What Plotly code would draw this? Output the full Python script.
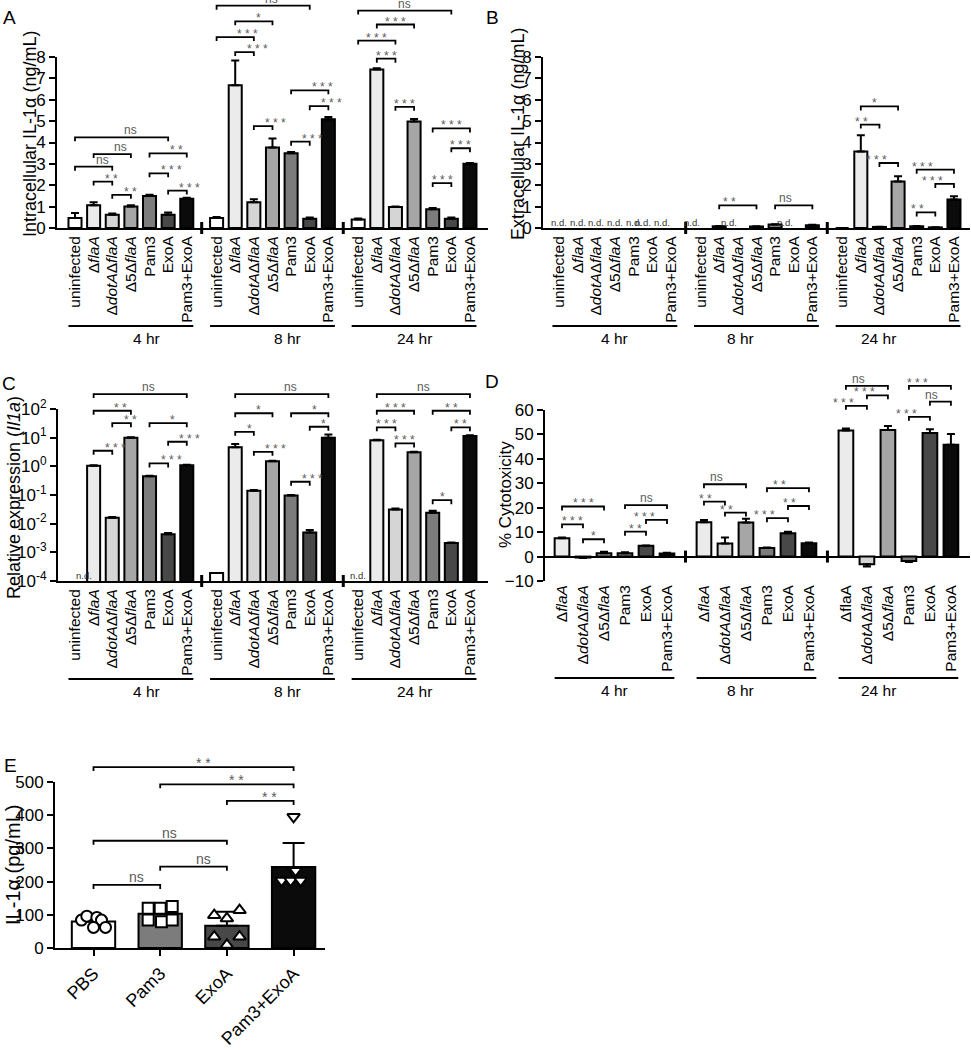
import math
import plotly.graph_objects as go

W, H = 971, 1050
FONT = "Liberation Sans, Arial, Helvetica, sans-serif"
SIG_GRAY = "#5a5a5a"

# ---------------- categories ----------------
timepoints = ["4 hr", "8 hr", "24 hr"]
conditions = ["uninfected", "ΔflaA", "ΔdotAΔflaA", "Δ5ΔflaA", "Pam3", "ExoA", "Pam3+ExoA"]
cond_ticktext = ["uninfected", "Δ<i>flaA</i>", "Δ<i>dotA</i>Δ<i>flaA</i>", "Δ5Δ<i>flaA</i>",
                 "Pam3", "ExoA", "Pam3+ExoA"]
cond_colors = ["#ffffff", "#ebebeb", "#d5d5d5", "#a6a6a6", "#7c7c7c", "#484848", "#0b0b0b"]

d_ticktext = cond_ticktext[1:]
d_ticktext_24 = ["ΔflaA"] + cond_ticktext[2:]
d_colors = cond_colors[1:]

# ---------------- A: intracellular IL-1a (ng/mL) ----------------
a_mean_4 = [0.47, 1.06, 0.62, 1.00, 1.50, 0.62, 1.37]
a_sem_4 = [0.23, 0.14, 0.06, 0.07, 0.05, 0.10, 0.04]
a_mean_8 = [0.47, 6.68, 1.21, 3.77, 3.50, 0.43, 5.09]
a_sem_8 = [0.04, 1.16, 0.14, 0.42, 0.05, 0.06, 0.10]
a_mean_24 = [0.40, 7.42, 0.98, 4.98, 0.88, 0.43, 3.00]
a_sem_24 = [0.04, 0.05, 0.03, 0.12, 0.05, 0.06, 0.04]
# (timepoint, bar i, bar j, bracket level, label)
a_sig = [
    (0, 0, 5, 4.24, "ns"), (0, 1, 3, 3.46, "ns"), (0, 4, 6, 3.49, "**"), (0, 0, 2, 2.87, "ns"),
    (0, 4, 5, 2.56, "***"), (0, 1, 2, 2.17, "**"), (0, 5, 6, 1.75, "***"), (0, 2, 3, 1.55, "**"),
    (1, 0, 5, 10.4, "ns"), (1, 1, 3, 9.67, "*"), (1, 0, 2, 8.93, "***"), (1, 1, 2, 8.23, "***"),
    (1, 4, 6, 6.44, "***"), (1, 5, 6, 5.70, "***"), (1, 2, 3, 4.77, "***"), (1, 4, 5, 4.04, "***"),
    (2, 0, 5, 10.17, "ns"), (2, 1, 3, 9.52, "***"), (2, 0, 2, 8.77, "***"), (2, 1, 2, 7.92, "***"),
    (2, 2, 3, 5.67, "***"), (2, 4, 6, 4.66, "***"), (2, 5, 6, 3.73, "***"), (2, 4, 5, 2.10, "***"),
]

# ---------------- B: extracellular IL-1a (ng/mL), None = n.d. ----------------
b_mean_4 = [None, None, None, None, None, None, None]
b_sem_4 = [0, 0, 0, 0, 0, 0, 0]
b_mean_8 = [None, 0.08, None, 0.07, 0.16, None, 0.13]
b_sem_8 = [0, 0.01, 0, 0.01, 0.02, 0, 0.02]
b_mean_24 = [0.0, 3.58, 0.05, 2.18, 0.08, 0.03, 1.33]
b_sem_24 = [0, 0.76, 0.01, 0.24, 0.01, 0.01, 0.15]
b_sig = [
    (1, 1, 3, 1.06, "**"), (1, 4, 6, 1.06, "ns"),
    (2, 1, 3, 5.69, "*"), (2, 1, 2, 4.84, "**"), (2, 2, 3, 3.04, "***"),
    (2, 4, 6, 2.73, "***"), (2, 5, 6, 2.06, "***"), (2, 4, 5, 0.73, "**"),
]

# ---------------- C: relative expression (Il1a), log ----------------
c_mean_4 = [None, 1.05, 0.016, 10.0, 0.45, 0.0043, 1.1]
c_sem_4 = [0, 0.05, 0.001, 0.4, 0.02, 0.0004, 0.04]
c_mean_8 = [1.9e-4, 4.6, 0.14, 1.5, 0.096, 0.0049, 10.0]
c_sem_8 = [0, 1.4, 0.01, 0.08, 0.005, 0.0011, 2.8]
c_mean_24 = [None, 8.2, 0.031, 3.1, 0.024, 0.0021, 11.4]
c_sem_24 = [0, 0.3, 0.003, 0.1, 0.004, 0.0001, 0.8]
c_tickvals = [1e-4, 1e-3, 1e-2, 1e-1, 1e0, 1e1, 1e2]
c_ticktext = ["10<sup>-4</sup>", "10<sup>-3</sup>", "10<sup>-2</sup>", "10<sup>-1</sup>",
              "10<sup>0</sup>", "10<sup>1</sup>", "10<sup>2</sup>"]
c_sig = [
    (0, 1, 6, 331, "ns"), (0, 1, 3, 87, "**"), (0, 2, 3, 32, "**"), (0, 4, 6, 32, "*"),
    (0, 5, 6, 7.2, "***"), (0, 1, 2, 3.5, "***"), (0, 4, 5, 1.26, "***"),
    (1, 1, 6, 331, "ns"), (1, 1, 3, 71, "*"), (1, 4, 6, 71, "*"), (1, 5, 6, 24, "*"),
    (1, 1, 2, 16, "*"), (1, 2, 3, 3.2, "***"), (1, 4, 5, 0.29, "***"),
    (2, 1, 6, 331, "ns"), (2, 1, 3, 87, "***"), (2, 4, 6, 87, "**"), (2, 1, 2, 23, "***"),
    (2, 5, 6, 23, "**"), (2, 2, 3, 6.3, "***"), (2, 4, 5, 0.066, "*"),
]

# ---------------- D: % cytotoxicity ----------------
d_mean_4 = [7.5, -0.4, 1.4, 1.4, 4.4, 1.3]
d_sem_4 = [0.3, 0.2, 0.6, 0.4, 0.1, 0.3]
d_mean_8 = [14.0, 5.3, 13.9, 3.5, 9.5, 5.5]
d_sem_8 = [1.0, 2.5, 1.6, 0.2, 0.7, 0.3]
d_mean_24 = [51.6, -3.1, 51.8, -1.8, 50.6, 45.8]
d_sem_24 = [0.8, 1.0, 1.7, 0.4, 1.5, 4.4]
d_sig = [
    (0, 0, 2, 20.5, "***"), (0, 0, 1, 13.2, "***"), (0, 1, 2, 7.1, "*"),
    (0, 3, 5, 21.1, "ns"), (0, 3, 4, 10.2, "**"), (0, 4, 5, 15.0, "***"),
    (1, 0, 2, 29.6, "ns"), (1, 0, 1, 22.5, "**"), (1, 1, 2, 18.0, "**"),
    (1, 3, 5, 28.0, "**"), (1, 4, 5, 20.7, "**"), (1, 3, 4, 15.7, "***"),
    (2, 0, 2, 69.9, "ns"), (2, 1, 2, 66.0, "***"), (2, 0, 1, 61.7, "***"),
    (2, 3, 5, 69.9, "***"), (2, 4, 5, 63.4, "ns"), (2, 3, 4, 57.2, "***"),
]

# ---------------- E: IL-1a (pg/mL) in vivo ----------------
e_groups = ["PBS", "Pam3", "ExoA", "Pam3+ExoA"]
e_mean = [80, 103, 67, 244]
e_sem = [8, 21, 42, 72]
e_colors = ["#ffffff", "#7c7c7c", "#484848", "#0b0b0b"]
e_pts_pbs = [84, 96, 92, 84, 62, 62]
e_pts_pam3 = [120, 120, 125, 84, 79, 84]
e_pts_exoa = [99, 89, 114, 34, 9, 34]
e_pts_combo = [395, 233, 233, 203, 203, 203]
e_sig = [
    (0, 3, 545, "**"), (1, 3, 493, "**"), (2, 3, 443, "**"),
    (0, 2, 323, "ns"), (1, 2, 245, "ns"), (0, 1, 190, "ns"),
]
# marker styling / horizontal scatter of dots (style only)
e_symbols = ["circle", "square", "triangle-up", "triangle-down"]
e_jitter = [
    [-0.18, -0.10, 0.05, 0.12, 0.0, 0.18],
    [-0.18, 0.0, 0.18, -0.18, 0.02, 0.18],
    [-0.19, 0.0, 0.19, -0.19, 0.0, 0.19],
    [0.0, 0.0, 0.03, -0.18, -0.045, 0.105],
]

# ---------------- geometry (pixels) ----------------
GEOM = {
    "A": dict(k=1, x0=57, x1=488, y0=57, y1=228, first=75.0, step=18.63, goff=7.6,
              yr=(0, 8), log=False, bw=0.7, gline=326, glabel=338),
    "B": dict(k=2, x0=543, x1=970, y0=57, y1=228, first=559.0, step=18.63, goff=7.6,
              yr=(0, 8), log=False, bw=0.7, gline=326, glabel=338),
    "C": dict(k=3, x0=58, x1=488, y0=409, y1=581, first=75.0, step=18.63, goff=7.6,
              yr=(-4, 2), log=True, bw=0.7, gline=679, glabel=691),
    "D": dict(k=4, x0=545, x1=970, y0=410, y1=581, first=562.0, step=21.0, goff=6.76,
              yr=(-10, 60), log=False, bw=0.7, gline=678, glabel=690),
    "E": dict(k=5, x0=55, x1=325, y0=782, y1=948, first=93.5, step=66.7, goff=0,
              yr=(0, 500), log=False, bw=0.65),
}

shapes, annotations, layout_axes = [], [], {}
fig = go.Figure()


def sfx(k):
    return "" if k == 1 else str(k)


def xrange_units(p):
    return [(p["x0"] - p["first"]) / p["step"], (p["x1"] - p["first"]) / p["step"]]


def xpap(p, u):
    return (p["first"] + u * p["step"]) / W


def ypap(p, v):
    lo, hi = p["yr"]
    t = math.log10(v) if p["log"] else v
    py = p["y1"] - (t - lo) / (hi - lo) * (p["y1"] - p["y0"])
    return 1 - py / H


def ypx(py):
    return 1 - py / H


def txt(x, y, text, size, color="black", **kw):
    d = dict(xref="paper", yref="paper", x=x, y=y, text=text, showarrow=False,
             font=dict(family=FONT, size=size, color=color))
    d.update(kw)
    annotations.append(d)


def bracket(p, ua, ub, level, label, drop=4, fs=12):
    xa, xb, yv = xpap(p, ua), xpap(p, ub), ypap(p, level)
    dy = drop / H
    shapes.append(dict(type="path", xref="paper", yref="paper",
                       path=f"M{xa},{yv - dy} L{xa},{yv} L{xb},{yv} L{xb},{yv - dy}",
                       line=dict(color="black", width=1.8)))
    if label == "ns":
        txt((xa + xb) / 2, yv, label, fs, SIG_GRAY, yanchor="bottom", yshift=-2)
    else:
        txt((xa + xb) / 2, yv, " ".join(label), fs, SIG_GRAY, yanchor="bottom", yshift=-6)


def setup_axes(p, tickvals, ticktext, xticks="", xline=True, xangle=-90, xfont=15.5,
               yextra=None):
    s = sfx(p["k"])
    layout_axes["xaxis" + s] = dict(
        domain=[p["x0"] / W, p["x1"] / W], range=xrange_units(p), anchor="y" + s,
        automargin=False, showgrid=False, zeroline=False, showline=xline,
        linecolor="black", linewidth=2,
        ticks=xticks, ticklen=6, tickwidth=2, tickcolor="black",
        tickvals=tickvals, ticktext=ticktext, tickangle=xangle,
        tickfont=dict(family=FONT, size=xfont, color="black"))
    yd = dict(domain=[1 - p["y1"] / H, 1 - p["y0"] / H], anchor="x" + s, automargin=False,
              showgrid=False, zeroline=False, showline=True, linecolor="black", linewidth=2,
              ticks="outside", ticklen=6, tickwidth=2, tickcolor="black",
              tickfont=dict(family=FONT, size=17, color="black"), range=list(p["yr"]))
    if p["log"]:
        yd["type"] = "log"
    if yextra:
        yd.update(yextra)
    layout_axes["yaxis" + s] = yd


def grouped_panel(p, means, sems, colors, ticktexts, sig, yextra=None, xline=True,
                  break_level=None):
    s = sfx(p["k"])
    n = len(colors)
    xs, ys, ep, em, cols, tv, tt = [], [], [], [], [], [], []
    axis_y = ypx(p["y1"])
    for g, (mv, sv) in enumerate(zip(means, sems)):
        for j, (v, e) in enumerate(zip(mv, sv)):
            u = g * p["goff"] + j
            tv.append(u)
            tt.append(ticktexts[g][j])
            if v is None:
                txt(xpap(p, u), axis_y, "n.d.", 9.5, "#333333", yanchor="bottom",
                    yshift=-1, borderpad=0)
                continue
            xs.append(u)
            ys.append(v)
            ep.append(e if v >= 0 else 0)
            em.append(e if v < 0 else 0)
            cols.append(colors[j])
        # group underline + label
        xl = xpap(p, g * p["goff"] - p["bw"] / 2)
        xr = xpap(p, g * p["goff"] + n - 1 + p["bw"] / 2)
        shapes.append(dict(type="line", xref="paper", yref="paper", x0=xl, x1=xr,
                           y0=ypx(p["gline"]), y1=ypx(p["gline"]),
                           line=dict(color="black", width=2)))
        txt((xl + xr) / 2, ypx(p["glabel"]), timepoints[g], 15.5, yanchor="middle")
        # axis break marks
        if g < len(means) - 1:
            ub = (g * p["goff"] + n - 1 + (g + 1) * p["goff"]) / 2
            yb = axis_y if break_level is None else ypap(p, break_level)
            shapes.append(dict(type="line", xref="paper", yref="paper",
                               x0=xpap(p, ub), x1=xpap(p, ub),
                               y0=yb - 6 / H, y1=yb + 6 / H,
                               line=dict(color="black", width=3)))
    fig.add_trace(go.Bar(
        x=xs, y=ys, width=p["bw"], xaxis="x" + s, yaxis="y" + s,
        marker=dict(color=cols, line=dict(color="black", width=2)),
        error_y=dict(type="data", symmetric=False, array=ep, arrayminus=em,
                     color="black", thickness=2, width=4),
        showlegend=False, hoverinfo="skip"))
    for g, i, j, lev, lab in sig:
        bracket(p, g * p["goff"] + i, g * p["goff"] + j, lev, lab)
    setup_axes(p, tv, tt, xline=xline, yextra=yextra)


# ---- A ----
pA = GEOM["A"]
grouped_panel(pA, [a_mean_4, a_mean_8, a_mean_24], [a_sem_4, a_sem_8, a_sem_24],
              cond_colors, [cond_ticktext] * 3, a_sig, yextra=dict(dtick=1))
# ---- B ----
pB = GEOM["B"]
grouped_panel(pB, [b_mean_4, b_mean_8, b_mean_24], [b_sem_4, b_sem_8, b_sem_24],
              cond_colors, [cond_ticktext] * 3, b_sig, yextra=dict(dtick=1))
# ---- C ----
pC = GEOM["C"]
grouped_panel(pC, [c_mean_4, c_mean_8, c_mean_24], [c_sem_4, c_sem_8, c_sem_24],
              cond_colors, [cond_ticktext] * 3, c_sig,
              yextra=dict(tickvals=c_tickvals, ticktext=c_ticktext))
# ---- D ----
pD = GEOM["D"]
grouped_panel(pD, [d_mean_4, d_mean_8, d_mean_24], [d_sem_4, d_sem_8, d_sem_24],
              d_colors, [d_ticktext, d_ticktext, d_ticktext_24], d_sig,
              yextra=dict(dtick=10, zeroline=True, zerolinecolor="black", zerolinewidth=2),
              xline=False, break_level=0)

# ---- E ----
pE = GEOM["E"]
fig.add_trace(go.Bar(
    x=list(range(len(e_groups))), y=e_mean, width=pE["bw"], xaxis="x5", yaxis="y5",
    marker=dict(color=e_colors, line=dict(color="black", width=2)),
    error_y=dict(type="data", symmetric=False, array=e_sem, arrayminus=[0] * 4,
                 color="black", thickness=2, width=11),
    showlegend=False, hoverinfo="skip"))
for gi, pts in enumerate([e_pts_pbs, e_pts_pam3, e_pts_exoa, e_pts_combo]):
    fig.add_trace(go.Scatter(
        x=[gi + dx for dx in e_jitter[gi]], y=pts, mode="markers", xaxis="x5", yaxis="y5",
        marker=dict(symbol=e_symbols[gi], size=11, color="white",
                    line=dict(color="black", width=2)),
        showlegend=False, hoverinfo="skip", cliponaxis=False))
for i, j, lev, lab in e_sig:
    bracket(pE, i, j, lev, lab, fs=14)
setup_axes(pE, list(range(len(e_groups))), e_groups, xticks="outside", xangle=-45, xfont=18,
           yextra=dict(dtick=100))

# ---- panel letters & y titles ----
for letter, (lx, ly) in {"A": (9, 18), "B": (492, 18), "C": (9, 383),
                         "D": (492, 381), "E": (10, 765)}.items():
    txt(lx / W, ypx(ly), letter, 19, xanchor="center", yanchor="middle")

ytitles = [
    ("Intracellular IL-1α (ng/mL)", 30, 134, 18),
    ("Extracellular IL-1α (ng/mL)", 518, 134, 18),
    ("Relative expression (<i>Il1a</i>)", 14, 498, 18),
    ("% Cytotoxicity", 505, 495, 17),
    ("IL-1α (pg/mL)", 13, 865, 20),
]
for t, cx, cy, fs in ytitles:
    txt(cx / W, ypx(cy), t, fs, textangle=-90, xanchor="center", yanchor="middle")

fig.update_layout(
    template="none",
    width=W, height=H, margin=dict(l=0, r=0, t=0, b=0, autoexpand=False),
    paper_bgcolor="white", plot_bgcolor="white",
    font=dict(family=FONT, color="black"),
    shapes=shapes, annotations=annotations, showlegend=False, bargap=0,
    **layout_axes)

fig.write_html("out.html",
               config={"displayModeBar": False, "staticPlot": True},
               post_script="document.body.style.margin='0px';"
                           "document.body.style.padding='0px';"
                           "document.body.style.overflow='hidden';")
